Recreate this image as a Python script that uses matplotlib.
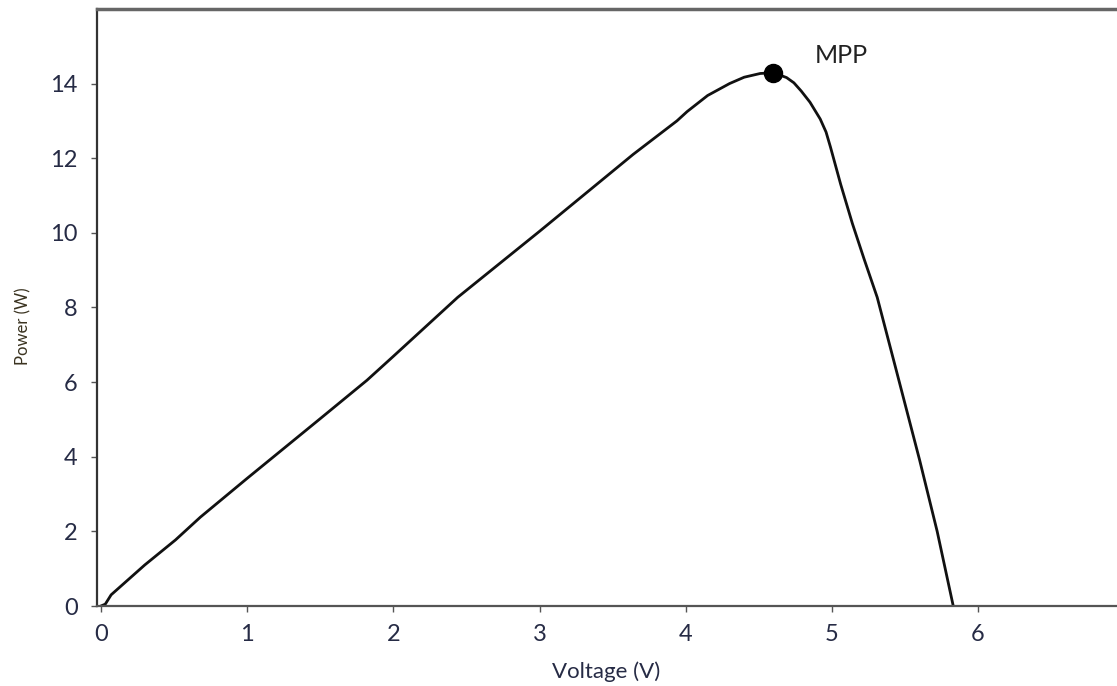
import matplotlib
matplotlib.use("Agg")
import matplotlib.pyplot as plt

# values
voltage = [0, 0.03, 0.07, 0.3, 0.51, 0.68, 1.0, 1.5, 1.82, 2.0, 2.44, 3.0, 3.64,
           3.94, 4.01, 4.15, 4.30, 4.40, 4.51, 4.60, 4.69, 4.74, 4.79, 4.85,
           4.92, 4.96, 4.99, 5.06, 5.14, 5.22, 5.31, 5.44, 5.60, 5.72, 5.83]
power = [0, 0.05, 0.3, 1.1, 1.77, 2.38, 3.42, 5.02, 6.05, 6.69, 8.27, 10.04, 12.1,
         13.0, 13.25, 13.68, 14.0, 14.17, 14.27, 14.29, 14.16, 14.02, 13.8, 13.5,
         13.05, 12.7, 12.3, 11.3, 10.25, 9.3, 8.27, 6.32, 3.91, 2.0, 0]
mpp_v, mpp_p = 4.60, 14.29
xticks = [0, 1, 2, 3, 4, 5, 6]
yticks = [0, 2, 4, 6, 8, 10, 12, 14]

plt.rcParams['font.family'] = ['Lato', 'DejaVu Sans']
tick_color = "#262b45"

fig = plt.figure(figsize=(11.17, 6.86), dpi=100)
ax = fig.add_axes([0.0868, 0.1166, 0.9132, 0.8704])

ax.plot(voltage, power, color="#111111", lw=2.0)
ax.plot(mpp_v, mpp_p, "o", color="black", ms=13)
ax.text(4.88, 14.75, "MPP", fontsize=18, color="#222222", va="center", ha="left")

ax.set_xlim(-0.027, 6.95)
ax.set_ylim(0, 16)
ax.set_xticks(xticks)
ax.set_yticks(yticks)
ax.tick_params(axis="both", labelsize=17, labelcolor=tick_color, color="#555555",
               length=4, width=1)
ax.tick_params(axis="x", pad=9)
ax.tick_params(axis="y", pad=10)

ax.spines["right"].set_visible(False)
ax.spines["left"].set_color("#333333")
ax.spines["left"].set_linewidth(1.6)
ax.spines["bottom"].set_color("#555555")
ax.spines["bottom"].set_linewidth(1.6)
ax.spines["top"].set_color("#666666")
ax.spines["top"].set_linewidth(2.5)

ax.set_xlabel("Voltage (V)", fontsize=16, color=tick_color)
ax.xaxis.set_label_coords(0.499, -0.092)
ax.set_ylabel("Power (W)", fontsize=12, color="#3a3320")
ax.yaxis.set_label_coords(-0.064, 0.469)

fig.savefig("out.png", dpi=100)
